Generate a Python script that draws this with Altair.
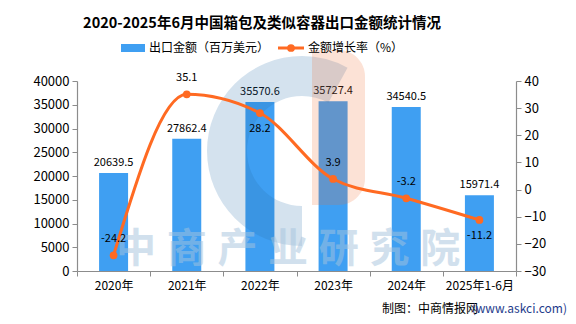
import altair as alt
import pandas as pd

categories = ["2020年", "2021年", "2022年", "2023年", "2024年", "2025年1-6月"]
export_value = [20639.5, 27862.4, 35570.6, 35727.4, 34540.5, 15971.4]
growth_rate = [-24.2, 35.1, 28.2, 3.9, -3.2, -11.2]
below_label_cats = ["2022年", "2025年1-6月"]
series_names = ["出口金额（百万美元）", "金额增长率（%）"]
title_text = "2020-2025年6月中国箱包及类似容器出口金额统计情况"
source_text = "制图：中商情报网"
source_url = "(www.askci.com)"
watermark_chars = ["中", "商", "产", "业", "研", "究", "院"]
left_ticks = [0, 5000, 10000, 15000, 20000, 25000, 30000, 35000, 40000]
right_ticks = [-30, -20, -10, 0, 10, 20, 30, 40]

FONT = "Noto Sans CJK SC"
BLUE = "#3f9ff2"
ORANGE = "#ff6a22"
AXIS_GRAY = "#8c8c8c"

df = pd.DataFrame({"cat": categories, "value": export_value, "rate": growth_rate})
df["value_label"] = [f"{v:.1f}" for v in export_value]
df["rate_label"] = [f"{v:.1f}" for v in growth_rate]
df["below"] = df["cat"].isin(below_label_cats)

W, H = 439, 190

xenc = alt.X(
    "cat:N", sort=categories,
    scale=alt.Scale(paddingInner=0, paddingOuter=0),
    axis=alt.Axis(title=None, labelAngle=0, tickBand="extent", domainColor=AXIS_GRAY,
                  tickColor=AXIS_GRAY, tickSize=5, labelFont=FONT, labelFontSize=12,
                  labelColor="#000", labelPadding=4, domainWidth=1.2),
)

left_axis = alt.Axis(title=None, values=left_ticks, format="d", grid=False, domainColor=AXIS_GRAY,
                     tickColor=AXIS_GRAY, tickSize=5, labelFont=FONT, labelFontSize=13,
                     labelColor="#000", labelPadding=3, domainWidth=1.2)
right_axis = alt.Axis(title=None, values=right_ticks, format="d", grid=False, orient="right",
                      domainColor=AXIS_GRAY, tickColor=AXIS_GRAY, tickSize=5,
                      labelFont=FONT, labelFontSize=13, labelColor="#000",
                      labelPadding=3, domainWidth=1.2)

yv = alt.Y("value:Q", scale=alt.Scale(domain=[0, 40000], nice=False), axis=left_axis)
yr = alt.Y("rate:Q", scale=alt.Scale(domain=[-30, 40], nice=False), axis=right_axis)

base = alt.Chart(df)

bars = base.mark_bar(size=29, color=BLUE).encode(x=xenc, y=yv)
bar_labels = base.mark_text(font=FONT, fontSize=11, dy=-10, color="#000").encode(
    x=xenc, y=yv, text="value_label:N")
left_group = alt.layer(bars, bar_labels)

line = base.mark_line(color=ORANGE, strokeWidth=3, interpolate="monotone").encode(x=xenc, y=yr)
points = base.mark_circle(size=60, color=ORANGE, opacity=1).encode(x=xenc, y=yr)
lab_above = base.transform_filter("!datum.below").mark_text(
    font=FONT, fontSize=11, dy=-16, color="#000").encode(x=xenc, y=yr, text="rate_label:N")
lab_below = base.transform_filter("datum.below").mark_text(
    font=FONT, fontSize=11, dy=16, color="#000").encode(x=xenc, y=yr, text="rate_label:N")
right_group = alt.layer(line, points, lab_above, lab_below)

one = pd.DataFrame({"t": [title_text]})

# watermark logo
logo_blue = alt.Chart(one).mark_arc(
    innerRadius=55, outerRadius=95, theta=3.1416, theta2=6.2832,
    color="#286eaa", opacity=0.2).encode(x=alt.value(225), y=alt.value(70))
logo_blue_top = alt.Chart(one).mark_arc(
    innerRadius=55, outerRadius=95, theta=0.0, theta2=0.5,
    color="#286eaa", opacity=0.2).encode(x=alt.value(225), y=alt.value(70))
logo_orange = alt.Chart(one).mark_rect(
    color="#f07030", opacity=0.2, cornerRadiusTopRight=45, cornerRadiusBottomRight=45).encode(
    x=alt.value(235), x2=alt.value(288), y=alt.value(-31), y2=alt.value(124))

wm_layers = []
for i, ch in enumerate(watermark_chars):
    wm_layers.append(
        alt.Chart(pd.DataFrame({"t": [ch]})).mark_text(
            font=FONT, fontSize=40, fontWeight="bold", color="#a5c3dd", opacity=0.5,
            align="center", baseline="middle").encode(
            x=alt.value(59 + i * 50.7), y=alt.value(169), text="t:N"))

title = alt.Chart(one).mark_text(
    font=FONT, fontSize=14.5, fontWeight="bold", color="#000", align="center",
    baseline="middle").encode(x=alt.value(185), y=alt.value(-57), text="t:N")

leg_rect = alt.Chart(one).mark_rect(color=BLUE).encode(
    x=alt.value(44), x2=alt.value(68), y=alt.value(-37), y2=alt.value(-29))
leg_t1 = alt.Chart(pd.DataFrame({"t": [series_names[0]]})).mark_text(
    font=FONT, fontSize=12, align="left", baseline="middle", color="#000").encode(
    x=alt.value(72), y=alt.value(-33), text="t:N")
leg_line = alt.Chart(one).mark_rule(color=ORANGE, strokeWidth=3).encode(
    x=alt.value(201), x2=alt.value(227), y=alt.value(-33))
leg_pt = alt.Chart(one).mark_circle(color=ORANGE, size=60, opacity=1).encode(
    x=alt.value(214), y=alt.value(-33))
leg_t2 = alt.Chart(pd.DataFrame({"t": [series_names[1]]})).mark_text(
    font=FONT, fontSize=12, align="left", baseline="middle", color="#000").encode(
    x=alt.value(231), y=alt.value(-33), text="t:N")

src1 = alt.Chart(pd.DataFrame({"t": [source_text]})).mark_text(
    font=FONT, fontSize=12, align="right", baseline="middle", color="#000").encode(
    x=alt.value(401), y=alt.value(228), text="t:N")
src2 = alt.Chart(pd.DataFrame({"t": [source_url]})).mark_text(
    font=FONT, fontSize=12, align="right", baseline="middle", color="#1f3c8c").encode(
    x=alt.value(490), y=alt.value(228), text="t:N")

chart = alt.layer(
    left_group, logo_blue, logo_blue_top, logo_orange, *wm_layers, right_group,
    title, leg_rect, leg_t1, leg_line, leg_pt, leg_t2, src1, src2,
).resolve_scale(y="independent").properties(
    width=W, height=H,
    autosize=alt.AutoSizeParams(type="none"),
    padding={"left": 77, "top": 81, "right": 60, "bottom": 53},
    background="white",
).configure_view(stroke=None)

chart.save("out.html", embed_options={"renderer": "svg", "actions": False})
